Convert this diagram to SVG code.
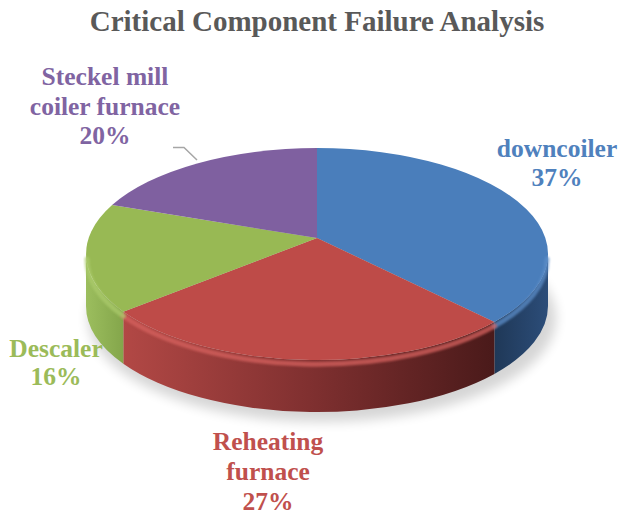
<svg xmlns="http://www.w3.org/2000/svg" width="621" height="517" viewBox="0 0 621 517">
  <style>
    .title { font-family: "Liberation Serif", "Times New Roman", serif; font-weight: bold; font-size: 29px; fill: #595959; text-anchor: middle; }
    .lbl { font-family: "Liberation Serif", "Times New Roman", serif; font-weight: bold; font-size: 25.5px; text-anchor: middle; }
    .blue { fill: #4F81BD; }
    .red { fill: #C0504D; }
    .green { fill: #9BBB59; }
    .purple { fill: #8064A2; }
    .rim { fill: none; stroke-width: 5; stroke-linecap: round; filter: url(#soft); opacity: 0.75; }
  </style>
  <defs>
    <filter id="shadowBlur" x="-20%" y="-40%" width="140%" height="180%">
      <feGaussianBlur stdDeviation="6"/>
    </filter>
    <filter id="soft" x="-10%" y="-30%" width="120%" height="160%">
      <feGaussianBlur stdDeviation="1.3"/>
    </filter>
    <linearGradient id="sideBlue" gradientUnits="userSpaceOnUse" x1="494" y1="0" x2="548" y2="0">
      <stop offset="0" stop-color="#1F3857"/>
      <stop offset="1" stop-color="#2C4D79"/>
    </linearGradient>
    <linearGradient id="sideRed" gradientUnits="userSpaceOnUse" x1="123" y1="0" x2="494" y2="0">
      <stop offset="0" stop-color="#B24845"/>
      <stop offset="0.5" stop-color="#803030"/>
      <stop offset="1" stop-color="#4A1A1A"/>
    </linearGradient>
    <linearGradient id="sideGreen" gradientUnits="userSpaceOnUse" x1="86" y1="0" x2="123" y2="0">
      <stop offset="0" stop-color="#9CBE5E"/>
      <stop offset="1" stop-color="#84A64B"/>
    </linearGradient>
  </defs>

  <!-- title -->
  <text class="title" x="317" y="31">Critical Component Failure Analysis</text>

  <!-- drop shadow under the disc -->
  <ellipse cx="322" cy="318" rx="234" ry="104" fill="#000" opacity="0.16" filter="url(#shadowBlur)"/>

  <!-- front wall of the disc -->
  <g id="sides">
    <path d="M548,254 A231,106 0 0 1 494.4,321.9 L494.4,373.9 A231,106 0 0 0 548,306 Z" fill="url(#sideBlue)"/>
    <path d="M494.4,321.9 A231,106 0 0 1 123.3,311.7 L123.3,363.7 A231,106 0 0 0 494.4,373.9 Z" fill="url(#sideRed)"/>
    <path d="M123.3,311.7 A231,106 0 0 1 86,254 L86,306 A231,106 0 0 0 123.3,363.7 Z" fill="url(#sideGreen)"/>
  </g>

  <!-- top faces of the slices -->
  <g id="slice-downcoiler">
    <path d="M317,238 L317,148 A231,106 0 0 1 494.4,321.9 Z" fill="#4A7EBB"/>
  </g>
  <g id="slice-reheating">
    <path d="M317,238 L494.4,321.9 A231,106 0 0 1 123.3,311.7 Z" fill="#BE4B48"/>
  </g>
  <g id="slice-descaler">
    <path d="M317,238 L123.3,311.7 A231,106 0 0 1 112.1,205.1 Z" fill="#98B954"/>
  </g>
  <g id="slice-steckel">
    <path d="M317,238 L112.1,205.1 A231,106 0 0 1 317,148 Z" fill="#7F60A0"/>
  </g>

  <!-- rounded rim highlight -->
  <g id="rim">
    <path class="rim" d="M547,259 A231,106 0 0 1 494.4,326" stroke="#5C8DC8"/>
    <path class="rim" d="M494.4,326 A231,106 0 0 1 123.3,316" stroke="#D6625E"/>
    <path class="rim" d="M123.3,316 A231,106 0 0 1 87,259" stroke="#ABCB6C"/>
  </g>

  <!-- leader line -->
  <g id="connectors">
    <polyline points="173,147.5 184,147.5 197,160" fill="none" stroke="#A6A6A6" stroke-width="1.5"/>
  </g>

  <!-- data labels -->
  <g id="label-downcoiler">
    <text class="lbl blue" x="557" y="157">downcoiler</text>
    <text class="lbl blue" x="557" y="186">37%</text>
  </g>
  <g id="label-reheating">
    <text class="lbl red" x="268" y="450">Reheating</text>
    <text class="lbl red" x="268" y="480">furnace</text>
    <text class="lbl red" x="268" y="510">27%</text>
  </g>
  <g id="label-descaler">
    <text class="lbl green" x="56" y="357">Descaler</text>
    <text class="lbl green" x="56" y="385">16%</text>
  </g>
  <g id="label-steckel">
    <text class="lbl purple" x="105" y="85">Steckel mill</text>
    <text class="lbl purple" x="105" y="115">coiler furnace</text>
    <text class="lbl purple" x="105" y="144">20%</text>
  </g>
</svg>
